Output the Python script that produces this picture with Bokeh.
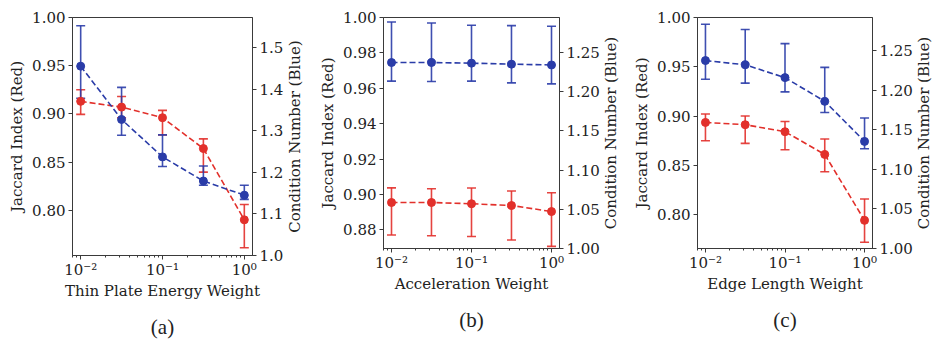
import math
from bokeh.plotting import figure
from bokeh.models import (Range1d, LinearAxis, FixedTicker, PrintfTickFormatter,
                          CustomJSTickFormatter, Whisker, TeeHead, ColumnDataSource, Title)
from bokeh.core.properties import value
from bokeh.layouts import row
from bokeh.embed import file_html
from bokeh.resources import INLINE

# ---------------- data ----------------
weights = [0.01, 0.0316, 0.1, 0.316, 1.0]

# Panel (a) - Thin Plate Energy Weight
a_jac = [0.913, 0.907, 0.896, 0.864, 0.790]
a_jac_lo = [0.8995, 0.896, 0.878, 0.8395, 0.761]
a_jac_hi = [0.925, 0.918, 0.9036, 0.874, 0.806]
a_cond = [1.455, 1.327, 1.237, 1.179, 1.145]
a_cond_lo = [1.378, 1.289, 1.214, 1.169, 1.135]
a_cond_hi = [1.552, 1.404, 1.290, 1.215, 1.169]

# Panel (b) - Acceleration Weight
b_jac = [0.8954, 0.8954, 0.8947, 0.8937, 0.8903]
b_jac_lo = [0.8770, 0.8766, 0.8762, 0.8742, 0.8706]
b_jac_hi = [0.9037, 0.9032, 0.9036, 0.9019, 0.9009]
b_cond = [1.2371, 1.2371, 1.2363, 1.2350, 1.2340]
b_cond_lo = [1.2134, 1.2130, 1.2134, 1.2112, 1.2099]
b_cond_hi = [1.2888, 1.2875, 1.2846, 1.2842, 1.2833]

# Panel (c) - Edge Length Weight
c_jac = [0.8937, 0.8914, 0.8843, 0.8613, 0.7945]
c_jac_lo = [0.8752, 0.8725, 0.8661, 0.8438, 0.7723]
c_jac_hi = [0.9022, 0.9002, 0.8947, 0.8769, 0.8162]
c_cond = [1.2376, 1.2322, 1.2160, 1.1860, 1.1354]
c_cond_lo = [1.2140, 1.2090, 1.1980, 1.1720, 1.1260]
c_cond_hi = [1.2835, 1.2768, 1.2590, 1.2290, 1.1650]

# ticks
x_major_ticks = [0.01, 0.1, 1.0]
x_tick_labels = ["10\u207b\u00b2", "10\u207b\u00b9", "10\u2070"]
x_minor_ticks = [0.008, 0.009, 0.02, 0.03, 0.04, 0.05, 0.06, 0.07, 0.08, 0.09,
                 0.2, 0.3, 0.4, 0.5, 0.6, 0.7, 0.8, 0.9]
a_left_ticks = [0.80, 0.85, 0.90, 0.95, 1.00]
a_right_ticks = [1.0, 1.1, 1.2, 1.3, 1.4, 1.5]
b_left_ticks = [0.88, 0.90, 0.92, 0.94, 0.96, 0.98, 1.00]
b_right_ticks = [1.00, 1.05, 1.10, 1.15, 1.20, 1.25]
c_left_ticks = [0.80, 0.85, 0.90, 0.95, 1.00]
c_right_ticks = [1.00, 1.05, 1.10, 1.15, 1.20, 1.25]

RIGHT_LABEL = "Condition Number (Blue)"
LEFT_LABEL = "Jaccard Index (Red)"

RED = "#e2302b"
BLUE = "#2a3ca8"
AXC = "#3a3a3a"
TXT = "#222222"
FONT = "DejaVu Serif"


def make_panel(xlabel, caption, jac, jlo, jhi, cond, clo, chi,
               lticks, lfmt, lrange, rticks, rfmt, rrange,
               frame_w, frame_h, mb_left, mb_right, mb_top, lab_w):
    p = figure(x_axis_type="log", x_range=Range1d(10 ** -2.1, 10 ** 0.1),
               y_range=Range1d(*lrange), frame_width=frame_w, frame_height=frame_h,
               min_border_left=mb_left, min_border_right=mb_right,
               min_border_top=mb_top, min_border_bottom=0,
               output_backend="svg", toolbar_location=None,
               x_axis_label=xlabel, y_axis_label=LEFT_LABEL)
    p.extra_y_ranges = {"cond": Range1d(*rrange)}
    rax = LinearAxis(y_range_name="cond")
    p.add_layout(rax, "right")

    p.xgrid.visible = False
    p.ygrid.visible = False
    p.outline_line_color = AXC
    p.outline_line_alpha = 1.0
    p.background_fill_color = "white"
    p.border_fill_color = "white"

    p.xaxis.ticker = FixedTicker(ticks=x_major_ticks, minor_ticks=x_minor_ticks)
    p.xaxis.formatter = CustomJSTickFormatter(
        args=dict(majors=x_major_ticks, names=x_tick_labels),
        code="""
        for (let i = 0; i < majors.length; i++) {
            if (Math.abs(Math.log10(majors[i]) - Math.log10(tick)) < 1e-6) return names[i];
        }
        return "";
        """)
    p.yaxis[0].ticker = FixedTicker(ticks=lticks)
    p.yaxis[0].formatter = PrintfTickFormatter(format=lfmt)
    rax.ticker = FixedTicker(ticks=rticks)
    rax.formatter = PrintfTickFormatter(format=rfmt)

    for ax in p.xaxis + p.yaxis + [rax]:
        ax.axis_line_color = AXC
        ax.major_tick_line_color = AXC
        ax.minor_tick_line_color = AXC
        ax.major_tick_out = 4
        ax.major_tick_in = 0
        ax.minor_tick_out = 2
        ax.minor_tick_in = 0
        ax.major_label_standoff = 3
        ax.major_label_text_font = FONT
        ax.major_label_text_font_size = "15px"
        ax.major_label_text_color = TXT
        ax.axis_label_text_font = FONT
        ax.axis_label_text_font_size = "15px"
        ax.axis_label_text_font_style = "normal"
        ax.axis_label_text_color = TXT
        ax.axis_label_standoff = 3
    p.xaxis.major_label_standoff = 1
    p.xaxis.axis_label_standoff = 0

    # red: Jaccard index (left axis)
    src_r = ColumnDataSource(dict(x=weights, y=jac, lo=jlo, hi=jhi))
    p.line("x", "y", source=src_r, line_color=RED, line_width=1.6, line_dash="6 3")
    p.add_layout(Whisker(base="x", lower="lo", upper="hi", source=src_r,
                         line_color=RED, line_width=1.6, line_alpha=0.9,
                         upper_head=TeeHead(size=9, line_color=RED, line_width=1.6, line_alpha=0.9),
                         lower_head=TeeHead(size=9, line_color=RED, line_width=1.6, line_alpha=0.9)))
    p.scatter("x", "y", source=src_r, size=8, fill_color=RED, line_color=RED)

    # blue: condition number (right axis)
    src_b = ColumnDataSource(dict(x=weights, y=cond, lo=clo, hi=chi))
    p.line("x", "y", source=src_b, line_color=BLUE, line_width=1.6, line_dash="6 3",
           y_range_name="cond")
    p.add_layout(Whisker(base="x", lower="lo", upper="hi", source=src_b, y_range_name="cond",
                         line_color=BLUE, line_width=1.6, line_alpha=0.9,
                         upper_head=TeeHead(size=9, line_color=BLUE, line_width=1.6, line_alpha=0.9),
                         lower_head=TeeHead(size=9, line_color=BLUE, line_width=1.6, line_alpha=0.9)))
    p.scatter("x", "y", source=src_b, size=8, fill_color=BLUE, line_color=BLUE,
              y_range_name="cond")

    p.add_layout(Title(text=caption, align="center", text_font="Liberation Serif",
                       text_font_size="21px", text_font_style="normal",
                       text_color=TXT, standoff=20), "below")

    # narrow strip holding the right axis title (reads bottom-to-top)
    lab = figure(x_range=Range1d(0, 1), y_range=Range1d(0, 1),
                 frame_width=lab_w, frame_height=frame_h,
                 min_border_left=0, min_border_right=0, min_border_top=mb_top,
                 min_border_bottom=0, x_axis_location=None, y_axis_location=None,
                 output_backend="svg", toolbar_location=None)
    lab.outline_line_color = None
    lab.xgrid.visible = False
    lab.ygrid.visible = False
    lab.border_fill_color = "white"
    lab.text(x=[0.5], y=[0.5], text=[RIGHT_LABEL], angle=math.pi / 2,
             text_align="center", text_baseline="middle",
             text_font=value(FONT), text_font_size=value("15px"), text_color=TXT)
    return p, lab


pa, la = make_panel("Thin Plate Energy Weight", "(a)", a_jac, a_jac_lo, a_jac_hi,
                    a_cond, a_cond_lo, a_cond_hi,
                    a_left_ticks, "%.2f", (0.753, 1.0), a_right_ticks, "%.1f", (1.0, 1.572),
                    180, 238, 72, 31, 13, 17)
pb, lb = make_panel("Acceleration Weight", "(b)", b_jac, b_jac_lo, b_jac_hi,
                    b_cond, b_cond_lo, b_cond_hi,
                    b_left_ticks, "%.2f", (0.8694, 1.0), b_right_ticks, "%.2f", (1.0, 1.2945),
                    176, 231, 80, 42, 17, 17)
pc, lc = make_panel("Edge Length Weight", "(c)", c_jac, c_jac_lo, c_jac_hi,
                    c_cond, c_cond_lo, c_cond_hi,
                    c_left_ticks, "%.2f", (0.766, 1.0), c_right_ticks, "%.2f", (1.0, 1.292),
                    175, 231, 78, 42, 17, 17)

layout = row(pa, la, pb, lb, pc, lc)
open("out.html", "w").write(file_html(layout, INLINE))
